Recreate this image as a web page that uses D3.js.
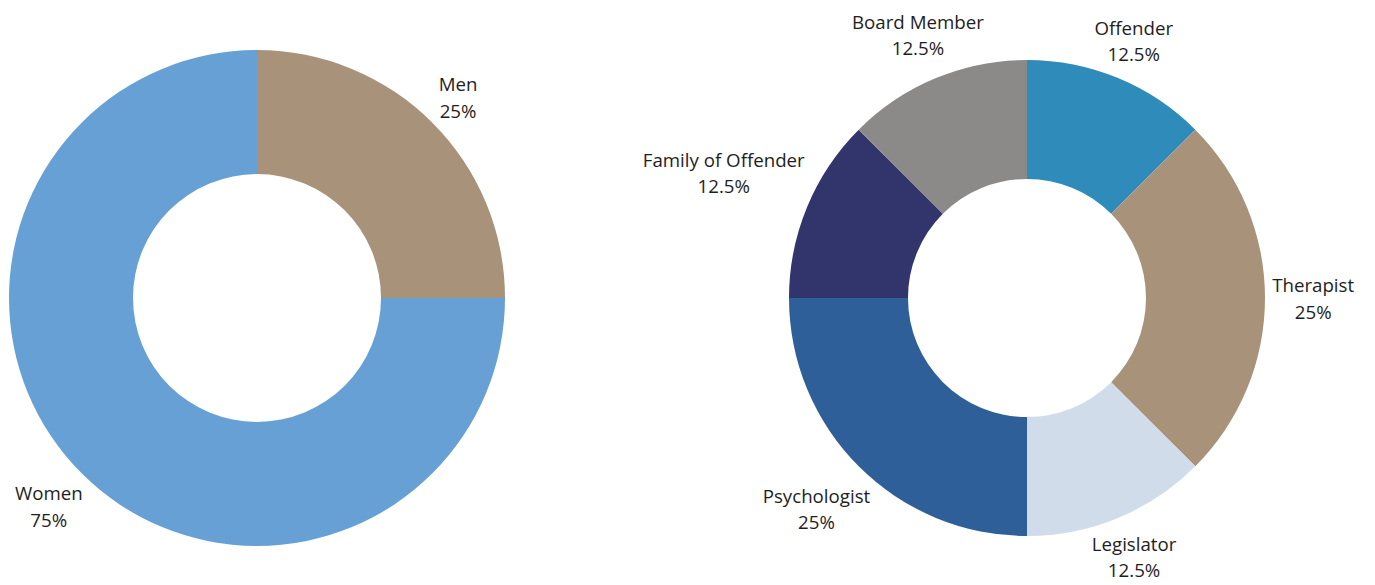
<!DOCTYPE html>
<html><head><meta charset="utf-8">
<script src="https://cdn.jsdelivr.net/npm/d3@7"></script>
<style>body{margin:0;background:#fff}svg{display:block}</style>
</head><body>
<svg id="chart" width="1375" height="585"></svg>
<script>
const genderCategories = ["Men", "Women"];
const genderValues = [25, 75];
const genderLabels = ["25%", "75%"];
const genderColors = ["#A8937A", "#67A0D4"];

const roleCategories = ["Offender", "Therapist", "Legislator", "Psychologist", "Family of Offender", "Board Member"];
const roleValues = [12.5, 25, 12.5, 25, 12.5, 12.5];
const roleLabels = ["12.5%", "25%", "12.5%", "25%", "12.5%", "12.5%"];
const roleColors = ["#2E8BBA", "#A8937A", "#D0DCEA", "#2F5F98", "#32346C", "#8B8A88"];

const svg = d3.select("#chart");
const fontSize = 18.7, lineH = 26.5, gap = 7;

function donut(cx, cy, R, r, cats, vals, labels, colors) {
  const g = svg.append("g").attr("transform", `translate(${cx},${cy})`);
  const pie = d3.pie().sort(null).startAngle(0).endAngle(2 * Math.PI)
    .value((d, i) => vals[i]);
  const data = pie(cats);
  const arc = d3.arc().innerRadius(r).outerRadius(R);
  g.selectAll("path").data(data).join("path")
    .attr("d", arc).attr("fill", (d, i) => colors[i]);

  data.forEach((d, i) => {
    const a = (d.startAngle + d.endAngle) / 2;
    const t = g.append("text")
      .attr("font-family", "'Open Sans', sans-serif")
      .attr("font-size", fontSize).attr("fill", "#1e1e1e")
      .attr("text-anchor", "middle");
    t.append("tspan").attr("x", 0).attr("dy", 0).text(cats[i]);
    t.append("tspan").attr("x", 0).attr("dy", lineH).text(labels[i]);
    const bb = t.node().getBBox();
    const hw = bb.width / 2, hh = (lineH + fontSize * 0.95) / 2;
    const s = Math.sin(a), c = -Math.cos(a);
    const nearest = dd => {
      const px = Math.abs(s * dd), py = Math.abs(c * dd);
      const ex = Math.max(px - hw, 0), ey = Math.max(py - hh, 0);
      return Math.hypot(ex, ey);
    };
    let lo = 0, hi = R * 3;
    for (let k = 0; k < 60; k++) {
      const mid = (lo + hi) / 2;
      if (nearest(mid) < R + gap) lo = mid; else hi = mid;
    }
    const ccx = s * hi, ccy = c * hi;
    const bcy = bb.y + bb.height / 2;
    t.attr("transform", `translate(${ccx},${ccy - bcy})`);
  });
}

donut(257, 298, 248, 124, genderCategories, genderValues, genderLabels, genderColors);
donut(1027, 298, 238, 119, roleCategories, roleValues, roleLabels, roleColors);
</script>
</body></html>
